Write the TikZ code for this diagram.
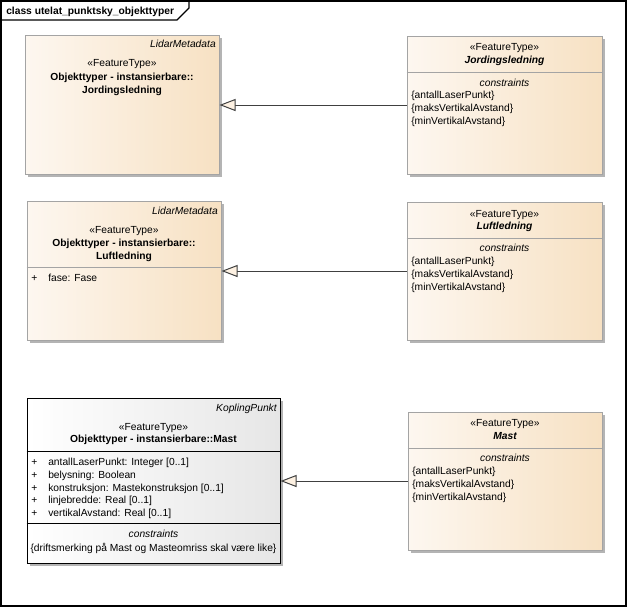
\documentclass[tikz,border=0pt]{standalone}
\usepackage{fontspec}
\setmainfont{Liberation Sans}
\usetikzlibrary{fit,shadows,arrows.meta}
\definecolor{creamL}{HTML}{FDF7F0}
\definecolor{creamR}{HTML}{F7E1C3}
\definecolor{grayL}{HTML}{FFFFFF}
\definecolor{grayR}{HTML}{E6E6E6}
\definecolor{bordergray}{HTML}{A4A4A4}
\definecolor{shadowgray}{HTML}{B4B4B4}
\definecolor{linegray}{HTML}{404040}
\definecolor{tri}{HTML}{FDF1E2}
\begin{document}
\begin{tikzpicture}[x=0.75pt,y=-0.75pt,
  every node/.style={font=\fontsize{7.7}{9.6}\selectfont, inner sep=0pt},
  cbox/.style={draw=bordergray, line width=0.75pt, left color=creamL, right color=creamR,
    drop shadow={shadow xshift=2.25pt, shadow yshift=-2.25pt, fill=shadowgray, opacity=1}},
  gbox/.style={draw=black, line width=0.75pt, left color=grayL, right color=grayR,
    drop shadow={shadow xshift=2.25pt, shadow yshift=-2.25pt, fill=shadowgray, opacity=1}},
  cdiv/.style={draw=bordergray, line width=0.75pt},
  gdiv/.style={draw=black, line width=0.75pt},
  ctext/.style={anchor=mid},
  ltext/.style={anchor=mid west},
  rtext/.style={anchor=mid east, font=\fontsize{7.7}{9.6}\selectfont\itshape},
  bname/.style={anchor=mid, font=\fontsize{7.7}{9.6}\selectfont\bfseries},
  biname/.style={anchor=mid, font=\fontsize{7.7}{9.6}\selectfont\bfseries\itshape},
  itext/.style={anchor=mid, font=\fontsize{7.7}{9.6}\selectfont\itshape},
  gen/.style={draw=linegray, line width=0.75pt, -{Triangle[length=12pt, width=9pt, fill=tri, color=linegray]}}
]
\useasboundingbox (0,0) rectangle (628,608);
% frame
\draw[line width=1pt] (1,1) rectangle (626,606);
\draw[line width=1pt] (1,20) -- (177,20) -- (189,8) -- (189,1);
\node[anchor=mid west, font=\fontsize{7.7}{9.6}\selectfont\bfseries] (title) at (6,11) {class utelat\_punktsky\_objekttyper};

% ---------- Row 1 ----------
\node[cbox, fit={(25,35)(219,174)}] (b1l) {};
\node[rtext] (b1l-p) at (216,44) {LidarMetadata};
\node[ctext] (b1l-s) at (122,63) {«FeatureType»};
\node[bname] (b1l-n1) at (122,77) {Objekttyper - instansierbare::};
\node[bname] (b1l-n2) at (122,90) {Jordingsledning};

\node[cbox, fit={(407,36)(602,174)}] (b1r) {};
\draw[cdiv] (b1r.west |- 0,72) -- (b1r.east |- 0,72);
\node[ctext] (b1r-s) at (504.5,47) {«FeatureType»};
\node[biname] (b1r-n) at (504.5,60) {Jordingsledning};
\node[itext] (b1r-c) at (504.5,83) {constraints};
\foreach \t [count=\i] in {antallLaserPunkt,maksVertikalAvstand,minVertikalAvstand}
  \node[ltext] (b1r-c\i) at (411,{95+13*(\i-1)}) {\{\t\}};

\draw[gen] (b1r.west) -- (b1r.west -| b1l.east);

% ---------- Row 2 ----------
\node[cbox, fit={(27,201)(221,340)}] (b2l) {};
\draw[cdiv] (b2l.west |- 0,267) -- (b2l.east |- 0,267);
\node[rtext] (b2l-p) at (218,211) {LidarMetadata};
\node[ctext] (b2l-s) at (124,230) {«FeatureType»};
\node[bname] (b2l-n1) at (124,243) {Objekttyper - instansierbare::};
\node[bname] (b2l-n2) at (124,256) {Luftledning};
\node[ltext] (b2l-a1) at (31,278) {\makebox[12.75pt][l]{+}fase: Fase};

\node[cbox, fit={(407,202)(602,340)}] (b2r) {};
\draw[cdiv] (b2r.west |- 0,238) -- (b2r.east |- 0,238);
\node[ctext] (b2r-s) at (504.5,214) {«FeatureType»};
\node[biname] (b2r-n) at (504.5,226) {Luftledning};
\node[itext] (b2r-c) at (504.5,248) {constraints};
\foreach \t [count=\i] in {antallLaserPunkt,maksVertikalAvstand,minVertikalAvstand}
  \node[ltext] (b2r-c\i) at (411,{261+13*(\i-1)}) {\{\t\}};

\draw[gen] (b2r.west) -- (b2r.west -| b2l.east);

% ---------- Row 3 ----------
\node[gbox, fit={(27,398)(280,563)}] (b3l) {};
\draw[gdiv] (b3l.west |- 0,451) -- (b3l.east |- 0,451);
\draw[gdiv] (b3l.west |- 0,523) -- (b3l.east |- 0,523);
\node[rtext] (b3l-p) at (277,408) {KoplingPunkt};
\node[ctext] (b3l-s) at (153.5,427) {«FeatureType»};
\node[bname] (b3l-n) at (153.5,439) {Objekttyper - instansierbare::Mast};
\foreach \t [count=\i] in {{antallLaserPunkt: Integer [0..1]},{belysning: Boolean},{konstruksjon: Mastekonstruksjon [0..1]},{linjebredde: Real [0..1]},{vertikalAvstand: Real [0..1]}}
  \node[ltext] (b3l-a\i) at (31,{462+12.8*(\i-1)}) {\makebox[12.75pt][l]{+}\t};
\node[itext] (b3l-c) at (153.5,534) {constraints};
\node[ctext] (b3l-c1) at (153.5,548) {\{driftsmerking på Mast og Masteomriss skal være like\}};

\node[cbox, fit={(408,412)(602,550)}] (b3r) {};
\draw[cdiv] (b3r.west |- 0,448) -- (b3r.east |- 0,448);
\node[ctext] (b3r-s) at (505,423) {«FeatureType»};
\node[biname] (b3r-n) at (505,436) {Mast};
\node[itext] (b3r-c) at (505,458) {constraints};
\foreach \t [count=\i] in {antallLaserPunkt,maksVertikalAvstand,minVertikalAvstand}
  \node[ltext] (b3r-c\i) at (412,{471+13*(\i-1)}) {\{\t\}};

\draw[gen] (b3r.west) -- (b3r.west -| b3l.east);
\end{tikzpicture}
\end{document}
